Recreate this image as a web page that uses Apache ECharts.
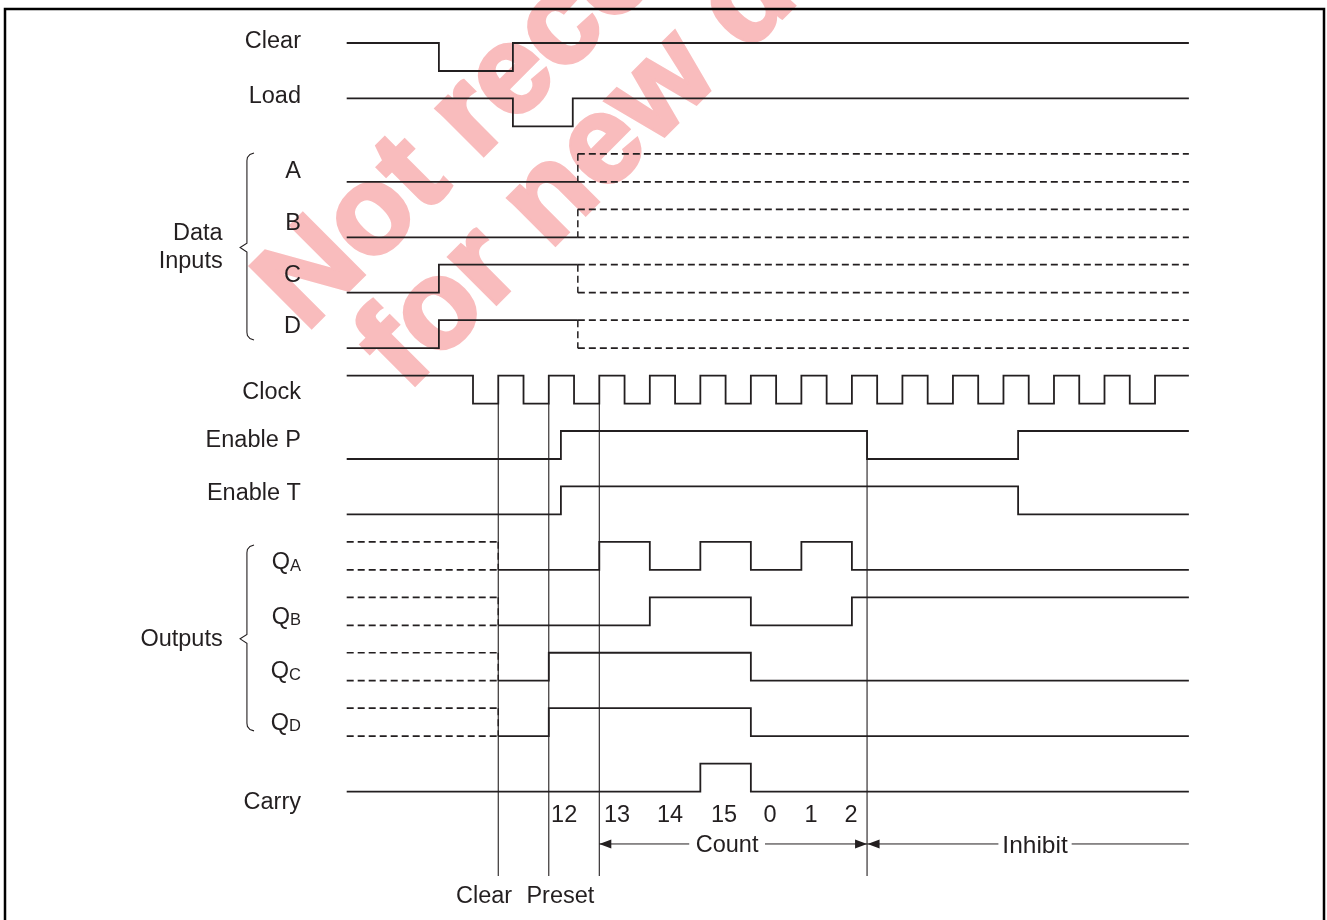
<!DOCTYPE html>
<html>
<head>
<meta charset="utf-8">
<script src="https://cdn.jsdelivr.net/npm/echarts@6/dist/echarts.min.js"></script>
<style>
html,body{margin:0;padding:0;background:#fff;}
#c{width:1327px;height:920px;}
</style>
</head>
<body>
<div id="c"></div>
<script>
// ================= DATA (time in half-clock-period units, rows top→bottom) =================
const signalNames = ['Clear','Load','A','B','C','D','Clock','Enable P','Enable T','QA','QB','QC','QD','Carry'];
// initial level (1 = high, 0 = low) and transition times
const clearInit = 1,  clearEdges = [3.65, 6.58];
const loadInit = 1,   loadEdges = [6.58, 8.95];
const aInit = 0,      aEdges = [];
const bInit = 0,      bEdges = [];
const cInit = 0,      cEdges = [3.65];
const dInit = 0,      dEdges = [3.65];
const clockInit = 1,  clockEdges = [5,6,7,8,9,10,11,12,13,14,15,16,17,18,19,20,21,22,23,24,25,26,27,28,29,30,31,32];
const enPInit = 0,    enPEdges = [8.48, 20.6, 26.58];
const enTInit = 0,    enTEdges = [8.48, 26.58];
const qaInit = 0,     qaEdges = [10, 12, 14, 16, 18, 20];
const qbInit = 0,     qbEdges = [12, 16, 20];
const qcInit = 0,     qcEdges = [8, 16];
const qdInit = 0,     qdEdges = [8, 16];
const carryInit = 0,  carryEdges = [14, 16];
const timeStart = 0, timeEnd = 33.34;
const dataDontCareFrom = 9.15;      // data inputs become "don't care"
const outputsKnownFrom = 6;         // outputs undefined before clear
const markerTimes = [6, 8, 10, 20.6];
const countLabels = ['12','13','14','15','0','1','2'];
const countLabelTimes = [8.61, 10.70, 12.80, 14.94, 16.76, 18.38, 19.97];
const countRange = [10, 20.6];
const inhibitRange = [20.6, 33.34];
const bottomLabels = ['Clear', 'Preset'];
const bottomLabelTimes = [5.44, 8.46];
const watermarkLines = ['Not recommended', 'for new designs'];

// ================= LAYOUT =================
const X0 = 346.7, XU = 25.26, Y0 = 43, YU = 55.43;
const GL = 5, GT = 9, GW = 1319, GH = 911;
const xMin = -(X0 - GL) / XU, xMax = xMin + GW / XU;
const yMin = -(Y0 - GT) / YU, yMax = yMin + GH / YU;
const AMP = 0.505;
const INK = '#231f20';
const FONT = '"Liberation Sans", Arial, Helvetica, sans-serif';
const FS = 23.5;
const TEXT_DY = 1.8;   // px nudge for text vertical centering

function level(row, l) { return row + (l ? 0 : AMP); }
function wave(row, init, edges, t0, t1) {
  let l = init;
  const pts = [[t0, level(row, l)]];
  for (const e of edges) {
    pts.push([e, level(row, l)]);
    l = 1 - l;
    pts.push([e, level(row, l)]);
  }
  pts.push([t1, level(row, l)]);
  return pts;
}
function ls(data, o) {
  o = o || {};
  return {
    type: 'line', data: data, symbol: 'none', silent: true, animation: false, clip: false,
    z: o.z || 3,
    lineStyle: { color: INK, width: o.width || 1.8, type: o.dash ? [7, 4] : 'solid', cap: 'butt', join: 'miter' }
  };
}
function unknownBox(row, t0, t1) {
  const tv = (t0 === timeStart) ? t1 : t0;
  return [
    ls([[t0, level(row,1)], [t1, level(row,1)]], {dash:true, width: 1.7}),
    ls([[t0, level(row,0)], [t1, level(row,0)]], {dash:true, width: 1.7}),
    ls([[tv, level(row,1)], [tv, level(row,0)]], {dash:true, width: 1.5})
  ];
}

const series = [];
series.push(ls(wave(0, clearInit, clearEdges, timeStart, timeEnd)));
series.push(ls(wave(1, loadInit, loadEdges, timeStart, timeEnd)));
[[2,aInit,aEdges],[3,bInit,bEdges],[4,cInit,cEdges],[5,dInit,dEdges]].forEach(function (s) {
  series.push(ls(wave(s[0], s[1], s[2], timeStart, dataDontCareFrom)));
  unknownBox(s[0], dataDontCareFrom, timeEnd).forEach(function (x) { series.push(x); });
});
series.push(ls(wave(6, clockInit, clockEdges, timeStart, timeEnd)));
series.push(ls(wave(7, enPInit, enPEdges, timeStart, timeEnd)));
series.push(ls(wave(8, enTInit, enTEdges, timeStart, timeEnd)));
[[9,qaInit,qaEdges],[10,qbInit,qbEdges],[11,qcInit,qcEdges],[12,qdInit,qdEdges]].forEach(function (s) {
  unknownBox(s[0], timeStart, outputsKnownFrom).forEach(function (x) { series.push(x); });
  series.push(ls(wave(s[0], s[1], s[2], outputsKnownFrom, timeEnd)));
});
series.push(ls(wave(13, carryInit, carryEdges, timeStart, timeEnd)));

// vertical reference lines
const refBottom = 15.03;
markerTimes.forEach(function (t, i) {
  const top = (i === markerTimes.length - 1) ? level(7, 1) : level(6, 0);
  series.push(ls([[t, top], [t, refBottom]], {width: 1.1, z: 2}));
});

// arrow lines (Count / Inhibit)
const arrowRow = 14.45;
const countGap = [13.56, 16.56];
const inhibitGap = [25.8, 28.7];
series.push(ls([[countRange[0], arrowRow], [countGap[0], arrowRow]], {width: 1}));
series.push(ls([[countGap[1], arrowRow], [countRange[1], arrowRow]], {width: 1}));
series.push(ls([[inhibitRange[0], arrowRow], [inhibitGap[0], arrowRow]], {width: 1}));
series.push(ls([[inhibitGap[1], arrowRow], [inhibitRange[1], arrowRow]], {width: 1}));

// braces
function brace(top, tip, bottom) {
  const xv = -3.95, xh = -3.67, xt = -4.22;
  return ls([[xh, top], [xv + 0.12, top + 0.025], [xv + 0.02, top + 0.08], [xv, top + 0.14], [xv, tip - 0.08], [xt, tip], [xv, tip + 0.08],
             [xv, bottom - 0.14], [xv + 0.02, bottom - 0.08], [xv + 0.12, bottom - 0.025], [xh, bottom]], {width: 1.1});
}
series.push(brace(1.985, 3.69, 5.358));
series.push(brace(9.057, 10.75, 12.41));

const chart = echarts.init(document.getElementById('c'));
chart.setOption({
  animation: false,
  backgroundColor: '#fff',
  grid: { left: GL, top: GT, width: GW, height: GH, show: false },
  xAxis: { type: 'value', min: xMin, max: xMax, show: false },
  yAxis: { type: 'value', min: yMin, max: yMax, inverse: true, show: false },
  series: series
});

function P(t, r) { return chart.convertToPixel({ xAxisIndex: 0, yAxisIndex: 0 }, [t, r]); }

// ================= TEXT / DECORATION =================
const graphics = [];
// watermark (rotated, behind the drawing)
const WMF = 125, WMmid = 0.3465 * WMF, WMC = '#f9bcbd';
const wmStyle = function (t) {
  return { text: t, font: 'bold ' + WMF + 'px ' + FONT, fill: WMC, stroke: WMC, lineWidth: 4, align: 'left', verticalAlign: 'middle' };
};
graphics.push({
  type: 'group', x: 312, y: 339, rotation: Math.PI / 4, z: -10, silent: true,
  children: [
    { type: 'text', z: -10, x: 0, y: -WMmid, style: wmStyle(watermarkLines[0]) },
    { type: 'text', z: -10, x: 29, y: 114 - WMmid, style: wmStyle(watermarkLines[1]) }
  ]
});
// frame
graphics.push({ type: 'rect', z: 100, silent: true, shape: { x: GL, y: GT, width: GW, height: GH + 30 },
  style: { fill: 'none', stroke: '#000', lineWidth: 2.5 } });

function txt(t, r, text, align, size) {
  const p = P(t, r);
  graphics.push({ type: 'text', x: p[0], y: p[1] + TEXT_DY, z: 50, silent: true, style: {
    text: text, font: (size || FS) + 'px ' + FONT, fill: INK, align: align || 'center', verticalAlign: 'middle' } });
}
const labelT = -1.81;
const labelRows = [-0.054, 0.938, 2.29, 3.23, 4.17, 5.09, 6.28, 7.13, 8.10, 9.345, 10.33, 11.31, 12.24, 13.67];
signalNames.forEach(function (n, i) {
  if (n.length === 2 && n[0] === 'Q') {
    const p = P(labelT, labelRows[i]);
    graphics.push({ type: 'text', x: p[0], y: p[1] + TEXT_DY, z: 50, silent: true, style: {
      text: '{q|Q}{s|' + n[1] + '}', align: 'right', verticalAlign: 'middle',
      rich: {
        q: { fontSize: FS, fontFamily: FONT, fill: INK, lineHeight: 24, verticalAlign: 'bottom' },
        s: { fontSize: 16.5, fontFamily: FONT, fill: INK, lineHeight: 17.5, verticalAlign: 'bottom' }
      } } });
  } else {
    txt(labelT, labelRows[i], n, 'right');
  }
});
txt(-4.91, 3.397, 'Data', 'right');
txt(-4.91, 3.909, 'Inputs', 'right');
txt(-4.91, 10.73, 'Outputs', 'right');
countLabels.forEach(function (c, i) { txt(countLabelTimes[i], 13.91, c, 'center'); });
txt((countGap[0] + countGap[1]) / 2, arrowRow, 'Count', 'center');
txt((inhibitGap[0] + inhibitGap[1]) / 2, arrowRow, 'Inhibit', 'center', 24.5);
bottomLabels.forEach(function (b, i) { txt(bottomLabelTimes[i], 15.37, b, 'center'); });

// arrowheads
function arrow(t, r, dir) {
  const p = P(t, r);
  const L = 12, H = 4.5;
  graphics.push({ type: 'polygon', z: 40, silent: true,
    shape: { points: [[p[0], p[1]], [p[0] + dir * L, p[1] - H], [p[0] + dir * L, p[1] + H]] },
    style: { fill: INK } });
}
arrow(countRange[0], arrowRow, 1);
arrow(countRange[1], arrowRow, -1);
arrow(inhibitRange[0] + 0.02, arrowRow, 1);

chart.setOption({ graphic: graphics });
</script>
</body>
</html>
